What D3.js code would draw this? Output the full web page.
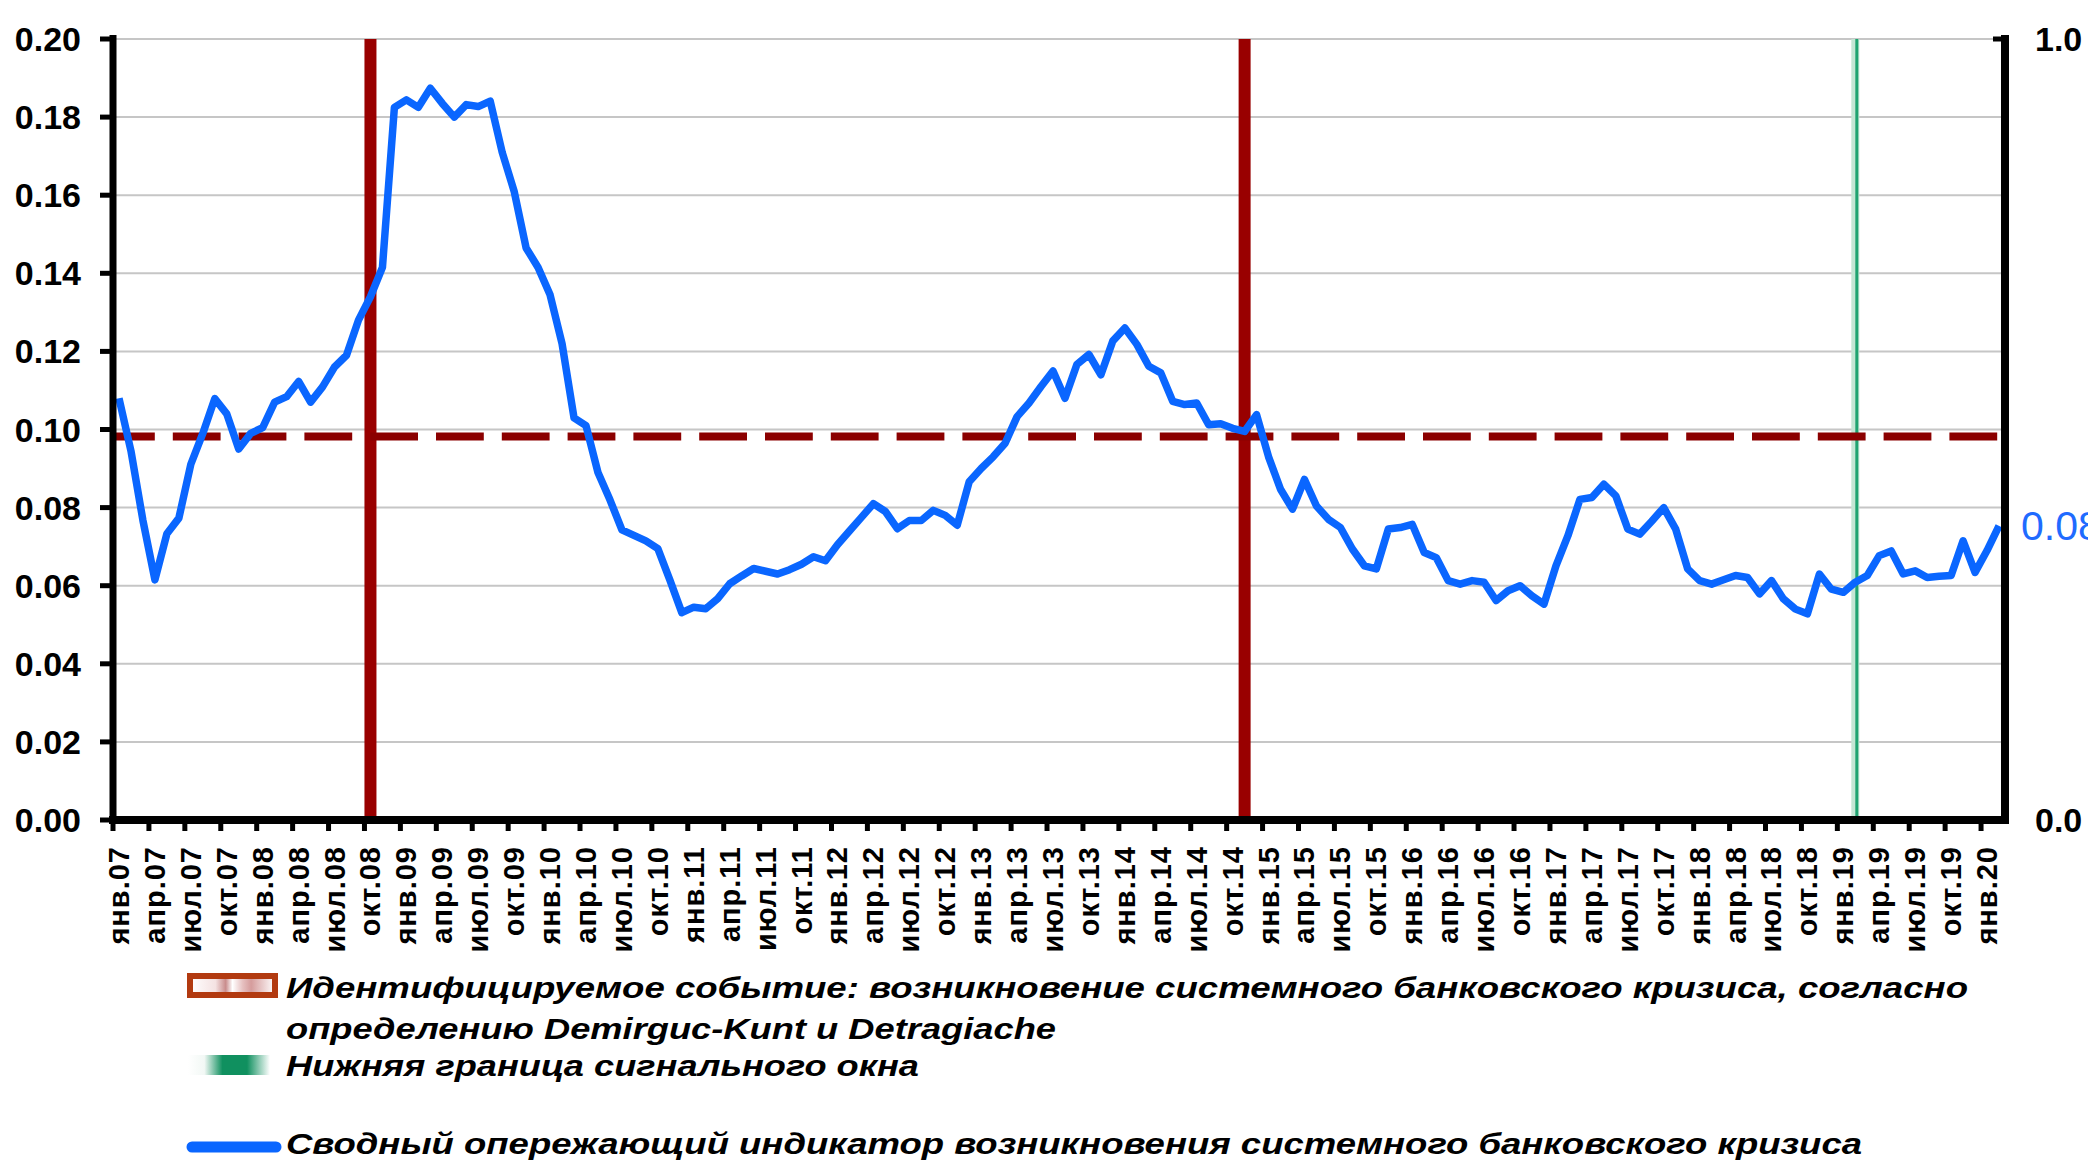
<!DOCTYPE html>
<html>
<head>
<meta charset="utf-8">
<script src="https://cdn.jsdelivr.net/npm/d3@7"></script>
<style>
  body { margin: 0; background: #fff; }
  text { font-family: "Liberation Sans", Arial, sans-serif; }
</style>
</head>
<body>
<div class="chart"></div>
<script>
// Сводный опережающий индикатор банковского кризиса, янв.07 - фев.20
var years = ["07", "08", "09", "10", "11", "12", "13", "14", "15", "16", "17", "18", "19", "20"];
var monthNames = ["янв.", "фев.", "мар.", "апр.", "май.", "июн.", "июл.", "авг.", "сен.", "окт.", "ноя.", "дек."];

var indicator = [
  0.108, 0.0945, 0.0767, 0.0615, 0.0733, 0.0773, 0.0911, 0.099, 0.1079, 0.104, 0.095, 0.099,
  0.1005, 0.107, 0.1084, 0.1123, 0.107, 0.1109, 0.116, 0.119, 0.128, 0.134, 0.1415, 0.1825,
  0.1844, 0.1825, 0.1874, 0.1835, 0.180, 0.1832, 0.1827, 0.1841, 0.171, 0.161, 0.1465, 0.1415,
  0.1345, 0.122, 0.103, 0.101, 0.089, 0.082, 0.0743, 0.0729, 0.0715, 0.0695, 0.0615, 0.0531,
  0.0545, 0.0541, 0.0567, 0.0605, 0.0625, 0.0644, 0.0637, 0.063, 0.0641, 0.0655, 0.0674, 0.0664,
  0.0705, 0.074, 0.0775, 0.081, 0.079, 0.0746, 0.0767, 0.0767, 0.0793, 0.078, 0.0755, 0.0866,
  0.090, 0.093, 0.0965, 0.1033, 0.1068, 0.111, 0.115, 0.108, 0.1167, 0.1192, 0.114, 0.1227,
  0.126, 0.1218, 0.1162, 0.1145, 0.1072, 0.1064, 0.1068, 0.1012, 0.1015, 0.1003, 0.0995, 0.1038,
  0.093, 0.0847, 0.0796, 0.0872, 0.0804, 0.077, 0.0749, 0.0694, 0.0651, 0.0643, 0.0745, 0.0749,
  0.0757, 0.0685, 0.0672, 0.0613, 0.0604, 0.0613, 0.0609, 0.0562, 0.0587, 0.060, 0.0574, 0.0553,
  0.0651, 0.0728, 0.0821, 0.0826, 0.086, 0.083, 0.0745, 0.0732, 0.0765, 0.080, 0.0745, 0.0643,
  0.0613, 0.0604, 0.0615, 0.0626, 0.0621, 0.0579, 0.0613, 0.0566, 0.054, 0.0528, 0.063, 0.0591,
  0.0583, 0.0609, 0.0626, 0.0677, 0.0689, 0.063, 0.0638, 0.0621, 0.0624, 0.0626, 0.0715, 0.0634,
  0.069, 0.0753
];

var threshold = 0.0982;           // пороговое значение
var crisisMonths = ["окт.08", "ноя.14"];   // идентифицируемое событие
var signalMonths = ["фев.19"];    // нижняя граница сигнального окна
var leftTicks = [0, 0.02, 0.04, 0.06, 0.08, 0.10, 0.12, 0.14, 0.16, 0.18, 0.20];
var rightTicks = [0, 1];

var legendItems = [
  "Идентифицируемое событие: возникновение системного банковского кризиса, согласно",
  "определению Demirguc-Kunt и Detragiache",
  "Нижняя граница сигнального окна",
  "Сводный опережающий индикатор возникновения системного банковского кризиса"
];

// месяцы янв.07 ... фев.20
var months = [];
years.forEach(function (y) {
  monthNames.forEach(function (m) {
    if (months.length < indicator.length) months.push(m + y);
  });
});

var svgWidth = 2088;
var svgHeight = 1160;
var plot = { left: 113, right: 2005, top: 39, bottom: 820 };

var svg = d3.select(".chart")
  .append("svg")
  .attr("width", svgWidth)
  .attr("height", svgHeight)
  .style("display", "block");

svg.append("rect").attr("width", svgWidth).attr("height", svgHeight).attr("fill", "#fff");

var defs = svg.append("defs");
var gRed = defs.append("linearGradient").attr("id", "redFill");
[[0, "#fff"], [0.3, "#f4e2e2"], [0.42, "#c98c8c"], [0.5, "#fff"], [0.62, "#e6c0c0"], [0.72, "#d59c9c"], [1, "#fff"]]
  .forEach(function (s) { gRed.append("stop").attr("offset", s[0]).attr("stop-color", s[1]); });
var gGreen = defs.append("linearGradient").attr("id", "greenFill");
[[0, "#fff"], [0.2, "#f2f8f5"], [0.42, "#10905f"], [0.72, "#10905f"], [1, "#fff"]]
  .forEach(function (s) { gGreen.append("stop").attr("offset", s[0]).attr("stop-color", s[1]); });

// Scales
var xScale = d3.scalePoint()
  .domain(months)
  .range([plot.left, plot.right])
  .padding(0.5);
var step = xScale.step();

var yScale = d3.scaleLinear().domain([0, 0.2]).range([plot.bottom, plot.top]);
var y2Scale = d3.scaleLinear().domain([0, 1]).range([plot.bottom, plot.top]);

// Grid
svg.append("g")
  .selectAll("line")
  .data(leftTicks.slice(1))
  .enter()
  .append("line")
  .attr("x1", plot.left)
  .attr("x2", plot.right)
  .attr("y1", d => yScale(d))
  .attr("y2", d => yScale(d))
  .attr("stroke", "#c6c6c6")
  .attr("stroke-width", 2);

// Crisis bars (secondary axis, value 1)
svg.append("g")
  .selectAll("rect")
  .data(crisisMonths)
  .enter()
  .append("rect")
  .attr("x", d => xScale(d) - 6)
  .attr("width", 12)
  .attr("y", y2Scale(1))
  .attr("height", y2Scale(0) - y2Scale(1))
  .attr("fill", "#990000");

// Signal window
var sig = svg.append("g").selectAll("g").data(signalMonths).enter().append("g");
sig.append("rect")
  .attr("x", d => xScale(d) - 4)
  .attr("width", 8)
  .attr("y", y2Scale(1))
  .attr("height", y2Scale(0) - y2Scale(1))
  .attr("fill", "#c4e6d4");
sig.append("line")
  .attr("x1", d => xScale(d) + 1.5)
  .attr("x2", d => xScale(d) + 1.5)
  .attr("y1", y2Scale(1))
  .attr("y2", y2Scale(0))
  .attr("stroke", "#1fa370")
  .attr("stroke-width", 3);

// Threshold
svg.append("line")
  .attr("x1", plot.left)
  .attr("x2", plot.right)
  .attr("y1", yScale(threshold))
  .attr("y2", yScale(threshold))
  .attr("stroke", "#8b0000")
  .attr("stroke-width", 8)
  .attr("stroke-dasharray", "47.8 18")
  .attr("stroke-dashoffset", 6);

// Indicator line
var line = d3.line()
  .x((d, i) => xScale(months[i]))
  .y(d => yScale(d));

svg.append("path")
  .datum(indicator)
  .attr("d", line)
  .attr("fill", "none")
  .attr("stroke", "#0a66ff")
  .attr("stroke-width", 7.5)
  .attr("stroke-linejoin", "round");

// Last value label
var lastVal = indicator[indicator.length - 1];
svg.append("text")
  .attr("x", plot.right + 16)
  .attr("y", yScale(lastVal))
  .attr("dominant-baseline", "central")
  .attr("fill", "#1f6bff")
  .style("font-size", "41px")
  .text(d3.format(".2f")(lastVal));

// Left axis
svg.append("line")
  .attr("x1", plot.left).attr("x2", plot.left)
  .attr("y1", plot.top - 4).attr("y2", plot.bottom + 4)
  .attr("stroke", "#000").attr("stroke-width", 7);

var leftAxis = svg.append("g");
leftAxis.selectAll("line")
  .data(leftTicks)
  .enter()
  .append("line")
  .attr("x1", plot.left - 13).attr("x2", plot.left)
  .attr("y1", d => yScale(d)).attr("y2", d => yScale(d))
  .attr("stroke", "#000").attr("stroke-width", 5);
leftAxis.selectAll("text")
  .data(leftTicks)
  .enter()
  .append("text")
  .attr("x", 81)
  .attr("y", d => yScale(d))
  .attr("text-anchor", "end")
  .attr("dominant-baseline", "central")
  .style("font-size", "34px")
  .style("font-weight", "600")
  .text(d => d3.format(".2f")(d));

// Right axis
svg.append("line")
  .attr("x1", plot.right).attr("x2", plot.right)
  .attr("y1", plot.top - 4).attr("y2", plot.bottom + 4)
  .attr("stroke", "#000").attr("stroke-width", 8);

var rightAxis = svg.append("g");
rightAxis.selectAll("line")
  .data(rightTicks)
  .enter()
  .append("line")
  .attr("x1", plot.right - 12).attr("x2", plot.right + 4)
  .attr("y1", d => y2Scale(d)).attr("y2", d => y2Scale(d))
  .attr("stroke", "#000").attr("stroke-width", 5);
rightAxis.selectAll("text")
  .data(rightTicks)
  .enter()
  .append("text")
  .attr("x", plot.right + 30)
  .attr("y", d => y2Scale(d))
  .attr("dominant-baseline", "central")
  .style("font-size", "34px")
  .style("font-weight", "600")
  .text(d => d3.format(".1f")(d));

// Bottom axis
svg.append("line")
  .attr("x1", plot.left - 4).attr("x2", plot.right + 4)
  .attr("y1", plot.bottom).attr("y2", plot.bottom)
  .attr("stroke", "#000").attr("stroke-width", 8);

var tickMonths = months.filter((m, i) => i % 3 === 0);
var bottomAxis = svg.append("g");
bottomAxis.selectAll("line")
  .data(tickMonths)
  .enter()
  .append("line")
  .attr("x1", d => xScale(d) - step / 2)
  .attr("x2", d => xScale(d) - step / 2)
  .attr("y1", plot.bottom)
  .attr("y2", plot.bottom + 11)
  .attr("stroke", "#000").attr("stroke-width", 5);
bottomAxis.selectAll("text")
  .data(tickMonths)
  .enter()
  .append("text")
  .attr("transform", d => `translate(${xScale(d)}, 846) rotate(-90)`)
  .attr("text-anchor", "end")
  .attr("dominant-baseline", "central")
  .style("font-size", "29px")
  .style("font-weight", "bold")
  .style("letter-spacing", "1px")
  .text(d => d);

// Legend
var legend = svg.append("g");
legend.append("rect")
  .attr("x", 190).attr("y", 976).attr("width", 85).attr("height", 19)
  .attr("fill", "url(#redFill)")
  .attr("stroke", "#b23a10").attr("stroke-width", 6);
legend.append("rect")
  .attr("x", 188).attr("y", 1055).attr("width", 82).attr("height", 20)
  .attr("fill", "url(#greenFill)");
legend.append("line")
  .attr("x1", 192).attr("x2", 276)
  .attr("y1", 1147).attr("y2", 1147)
  .attr("stroke", "#0a66ff").attr("stroke-width", 11)
  .attr("stroke-linecap", "round");

var legendPos = [[998, 1682], [1039, 770], [1076, 633], [1154, 1576]];
legend.selectAll("text")
  .data(legendItems)
  .enter()
  .append("text")
  .attr("x", 286)
  .attr("y", (d, i) => legendPos[i][0])
  .attr("textLength", (d, i) => legendPos[i][1])
  .attr("lengthAdjust", "spacingAndGlyphs")
  .style("font-size", "30px")
  .style("font-weight", "bold")
  .style("font-style", "italic")
  .text(d => d);
</script>
</body>
</html>
